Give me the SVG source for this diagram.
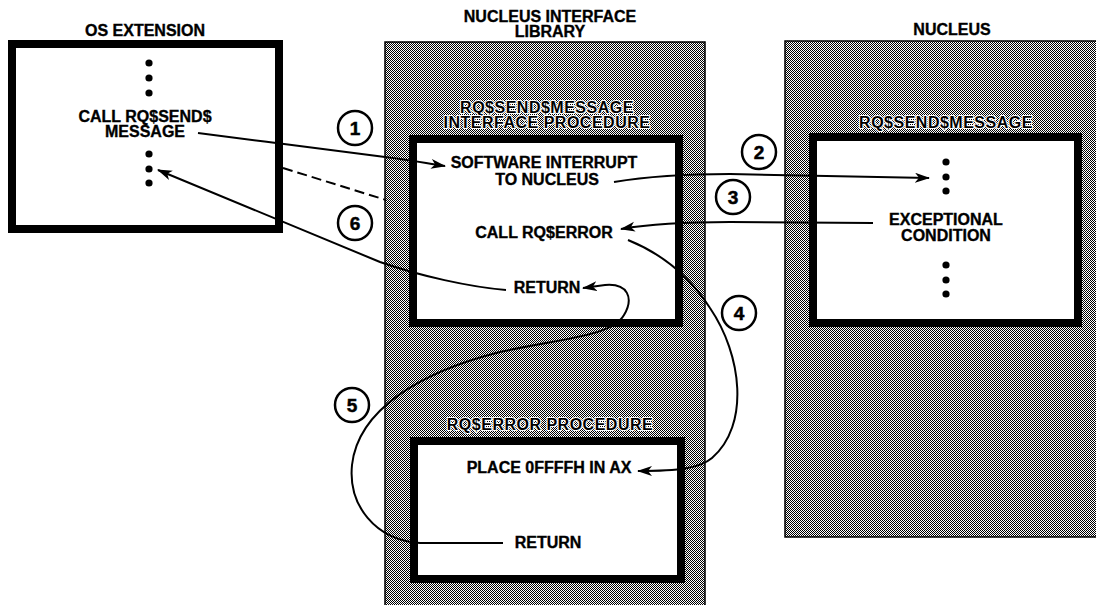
<svg xmlns="http://www.w3.org/2000/svg" width="1096" height="605" viewBox="0 0 1096 605">
<style>
text{font-family:"Liberation Sans",Arial,sans-serif;font-weight:bold;font-size:16px;fill:#000;text-anchor:middle;stroke:#000;stroke-width:0.35px}
.sh{paint-order:stroke;stroke:#fff;stroke-width:2.2px;stroke-linejoin:round;letter-spacing:0.5px}
.num{font-size:19px;stroke-width:0.5px}
.box{fill:#fff;stroke:#000;stroke-width:8}
.col{fill:url(#dither);stroke:#000;stroke-width:1.5}
.wire{fill:none;stroke:#000;stroke-width:2}
.arr{marker-end:url(#ah)}
.circ{fill:#fff;stroke:#000;stroke-width:2.5}
</style>
<defs>
<pattern id="dither" patternUnits="userSpaceOnUse" width="2" height="2">
<rect width="2" height="2" fill="#fff"/>
<rect width="1" height="1" fill="#000"/>
<rect x="1" y="1" width="1" height="1" fill="#000"/>
</pattern>
<marker id="ah" markerUnits="userSpaceOnUse" markerWidth="16" markerHeight="12" refX="14" refY="5" orient="auto">
<path d="M0,0 L15,5 L0,10 L4,5 Z" fill="#000"/>
</marker>
</defs>
<rect width="1096" height="605" fill="#fff"/>

<g id="os-extension">
<text x="145" y="36">OS EXTENSION</text>
<rect class="box" x="12" y="44" width="267" height="185"/>
<circle cx="149" cy="63" r="3.6"/><circle cx="149" cy="78" r="3.6"/><circle cx="149" cy="93" r="3.6"/>
<text x="145" y="122">CALL RQ$SEND$</text>
<text x="145" y="137">MESSAGE</text>
<circle cx="149" cy="154" r="3.6"/><circle cx="149" cy="169" r="3.6"/><circle cx="149" cy="183" r="3.6"/>
</g>

<g id="nucleus-interface-library">
<text x="550" y="22">NUCLEUS INTERFACE</text>
<text x="550" y="37">LIBRARY</text>
<rect class="col" x="385" y="42" width="320" height="570"/>
</g>

<g id="interface-procedure">
<text class="sh" x="547" y="113">RQ$SEND$MESSAGE</text>
<text class="sh" x="547" y="128">INTERFACE PROCEDURE</text>
<rect class="box" x="413" y="139" width="266" height="184"/>
<text x="544" y="168">SOFTWARE INTERRUPT</text>
<text x="547" y="185">TO NUCLEUS</text>
<text x="544" y="238">CALL RQ$ERROR</text>
<text x="547" y="293">RETURN</text>
</g>

<g id="rqerror-procedure">
<text class="sh" x="550" y="430">RQ$ERROR PROCEDURE</text>
<rect class="box" x="414" y="441" width="267" height="138"/>
<text x="549" y="473">PLACE 0FFFFH IN AX</text>
<text x="548" y="548">RETURN</text>
</g>

<g id="nucleus">
<text x="952" y="35">NUCLEUS</text>
<rect class="col" x="785" y="41" width="320" height="496"/>
<text class="sh" x="946" y="128">RQ$SEND$MESSAGE</text>
<rect class="box" x="813" y="137" width="265" height="186"/>
<circle cx="946" cy="162" r="3.6"/><circle cx="946" cy="177" r="3.6"/><circle cx="946" cy="191" r="3.6"/>
<text x="946" y="225">EXCEPTIONAL</text>
<text x="946" y="241">CONDITION</text>
<circle cx="946" cy="265" r="3.6"/><circle cx="946" cy="280" r="3.6"/><circle cx="946" cy="294" r="3.6"/>
</g>

<g id="connectors">
<path class="wire arr" d="M198,133 C260,141 330,150 385,157 C410,160 425,163 445,166"/>
<path class="wire arr" d="M614,182 C650,176 690,174 730,174 L929,178"/>
<path class="wire arr" d="M873,223 L730,222 C680,222 650,224 621,229"/>
<path class="wire arr" d="M628,240 C665,255 692,280 710,308 C742,355 750,425 712,458 C700,468 680,471 638,471"/>
<path class="wire arr" d="M503,543 L420,543 C375,540 348,505 352,465 C358,410 420,372 500,352 C565,338 612,336 624,315 C634,298 628,283 605,285 L583,288"/>
<path class="wire arr" d="M506,290 C470,287 420,276 380,262 L158,170"/>
<path class="wire" d="M283,168 L386,200" stroke-dasharray="10,5"/>
</g>

<g id="step-markers">
<circle class="circ" cx="355" cy="128" r="17"/><text class="num" x="355" y="135">1</text>
<circle class="circ" cx="759" cy="152" r="17"/><text class="num" x="759" y="159">2</text>
<circle class="circ" cx="733" cy="197" r="17"/><text class="num" x="733" y="204">3</text>
<circle class="circ" cx="739" cy="313" r="17"/><text class="num" x="739" y="320">4</text>
<circle class="circ" cx="352" cy="405" r="17"/><text class="num" x="352" y="412">5</text>
<circle class="circ" cx="355" cy="223" r="17"/><text class="num" x="355" y="230">6</text>
</g>
</svg>
